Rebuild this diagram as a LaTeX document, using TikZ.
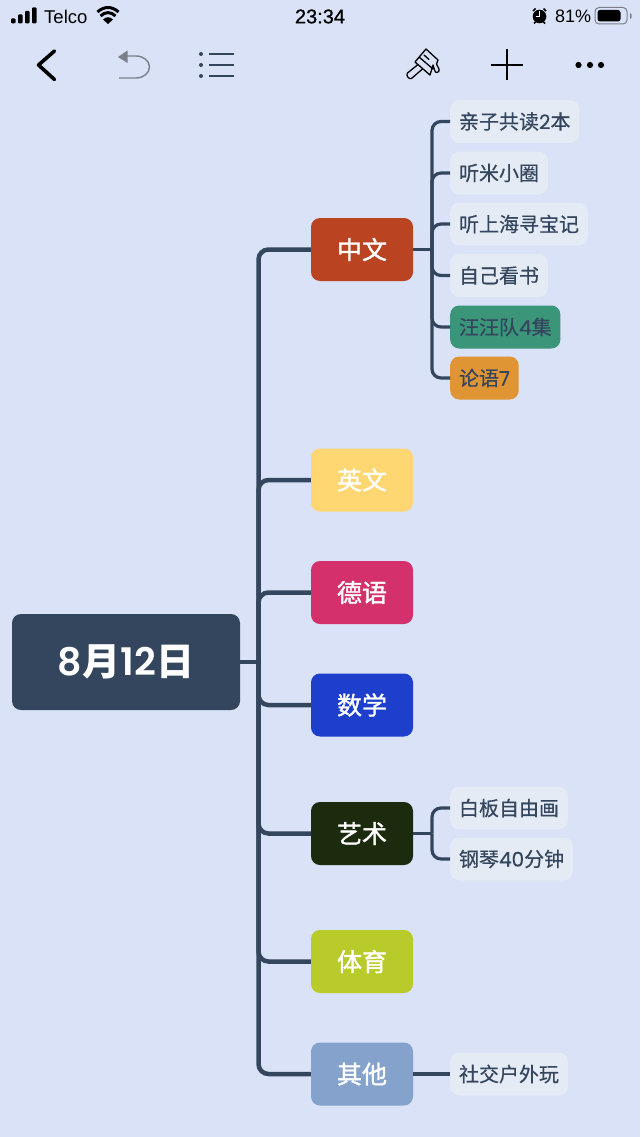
\documentclass[tikz,border=0pt]{standalone}
\usepackage{fontspec}
\setmainfont{Noto Sans CJK SC}
\newfontfamily\latinfont{Liberation Sans}
\newfontfamily\midfont[FakeBold=0.5]{Noto Sans CJK SC}
\newfontfamily\topicfont[FakeBold=1.4]{Noto Sans CJK SC}
\newfontfamily\digitfont[FakeBold=0.5]{Poppins}
\newfontfamily\rootdigit{Poppins SemiBold}
\newfontfamily\clockfont[FakeBold=0.7]{Liberation Sans}
\definecolor{pagebg}{HTML}{D9E2F6}
\definecolor{linkc}{HTML}{34455E}
\definecolor{subc}{HTML}{E5EBF4}
\definecolor{redc}{HTML}{BA4322}
\definecolor{yellowc}{HTML}{FFD772}
\definecolor{crimsonc}{HTML}{D3306C}
\definecolor{bluec}{HTML}{1E3FCB}
\definecolor{darkc}{HTML}{1C2B0D}
\definecolor{limec}{HTML}{B9CB2A}
\definecolor{steelc}{HTML}{84A2CC}
\definecolor{greenc}{HTML}{3A9579}
\definecolor{orangec}{HTML}{DF9534}
\definecolor{undoc}{HTML}{7A7F8A}
\tikzset{
  rootbox/.style={rectangle, rounded corners=9pt, fill=linkc, text=white, minimum width=228pt, minimum height=96pt, inner sep=0pt, font=\fontsize{38}{38}\selectfont\bfseries},
  topicbox/.style={rectangle, rounded corners=9pt, minimum width=102pt, minimum height=63pt, inner sep=0pt, text=white, font=\fontsize{25}{25}\topicfont\selectfont},
  subbox/.style={rectangle, rounded corners=9pt, fill=subc, text=linkc, minimum height=43pt, inner sep=0pt, inner xsep=8.8pt, anchor=west, font=\fontsize{20}{20}\midfont\selectfont},
  link/.style={draw=linkc, line width=4.5pt, rounded corners=10pt},
  sublink/.style={draw=linkc, line width=3.2pt, rounded corners=9pt},
}
\begin{document}
\begin{tikzpicture}[x=1pt,y=-1pt]
\useasboundingbox (0,0) rectangle (640,1137);
\fill[pagebg] (0,0) rectangle (640,1137);
% status bar
\fill[black, rounded corners=1pt] (11,18.5) rectangle (15.5,23.5);
\fill[black, rounded corners=1pt] (18,14.5) rectangle (22.5,23.5);
\fill[black, rounded corners=1pt] (25,11) rectangle (29.5,23.5);
\fill[black, rounded corners=1pt] (32,7.5) rectangle (36.5,23.5);
\node[anchor=west, inner sep=0pt, font=\latinfont\fontsize{18.5}{18.5}\selectfont] (carrier) at (44,16.5) {Telco};
\fill[black] (108,24) -- (103,19.5) .. controls (106,16.5) and (110,16.5) .. (113,19.5) -- cycle;
\draw[black, line width=3pt] (100.5,16) .. controls (105,11.5) and (111,11.5) .. (115.5,16);
\draw[black, line width=3pt] (97.5,12) .. controls (104,6) and (112,6) .. (118.5,12);
\node[inner sep=0pt, font=\fontsize{20}{20}\clockfont\selectfont] (clock) at (320,16.5) {23:34};
\fill[black] (539.5,16.5) circle (6.8pt);
\draw[white, line width=1pt] (539.5,11.5) -- (539.5,16.5) -- (536,16.5);
\draw[black, line width=1.6pt] (533,11) -- (535.5,8.5) (546,11) -- (543.5,8.5) (534,23.5) -- (535.5,22) (545,23.5) -- (543.5,22);
\node[anchor=west, inner sep=0pt, font=\latinfont\fontsize{18}{18}\selectfont] (percent) at (555,16.5) {81\%};
\draw[undoc, line width=1pt, rounded corners=4pt] (595,7.5) rectangle (627,24);
\fill[black, rounded corners=2.5pt] (597.5,10) rectangle (620.5,21.5);
\fill[undoc] (630,13) -- (631.5,14.5) -- (631.5,17.5) -- (630,19) -- cycle;
% toolbar
\draw[black, line width=3.6pt, line cap=round, line join=round] (54.5,51) -- (38.5,65) -- (54.5,79.5);
\fill[undoc] (118,57) -- (127.5,50.5) -- (127.5,63) -- cycle;
\draw[undoc, line width=1.4pt] (127,56) -- (136,56) arc[start angle=-90, end angle=90, x radius=13.5pt, y radius=-11pt] -- (119,78);
\fill[linkc] (201,54) circle (2pt) (201,65) circle (2pt) (201,76) circle (2pt);
\draw[linkc, line width=1.3pt] (209,54) -- (233.5,54) (209,65) -- (233.5,65) (209,76) -- (233.5,76);
\draw[black, line width=1.3pt, line join=round, line cap=round]
  (426,49) -- (438,60) -- (436.5,64) -- (439,69) .. controls (440,73) and (435,74) .. (434.5,70) -- (433,65) -- (430,75) -- (415,62) -- cycle
  (419,57) -- (433,69)
  (418,64.5) -- (407.5,73) .. controls (405.5,75) and (409,80) .. (411.5,78.5) -- (422.5,69)
  (424,55) -- (429,59.5);
\draw[black, line width=1.5pt] (491,65) -- (523,65) (507,49.5) -- (507,80.5);
\fill[black] (578.5,65) circle (3.1pt) (590,65) circle (3.1pt) (601,65) circle (3.1pt);
% nodes
\node[rootbox] (day) at (126,662) {{\rootdigit\mdseries 8}月{\rootdigit\mdseries 12}日};
\node[topicbox, fill=redc] (zhongwen) at (362,249.5) {中文};
\node[topicbox, fill=yellowc] (yingwen) at (362,480) {英文};
\node[topicbox, fill=crimsonc] (deyu) at (362,592.5) {德语};
\node[topicbox, fill=bluec] (shuxue) at (362,705) {数学};
\node[topicbox, fill=darkc] (yishu) at (362,833.5) {艺术};
\node[topicbox, fill=limec] (tiyu) at (362,961.5) {体育};
\node[topicbox, fill=steelc] (qita) at (362,1074) {其他};
\node[subbox] (qinzi) at (450,121.5) {亲子共读{\digitfont 2}本};
\node[subbox] (timi) at (450,173) {听米小圈};
\node[subbox] (shanghai) at (450,224) {听上海寻宝记};
\node[subbox] (zikan) at (450,275.5) {自己看书};
\node[subbox, fill=greenc] (wangwang) at (450,327) {汪汪队{\digitfont 4}集};
\node[subbox, fill=orangec] (lunyu) at (450,378) {论语{\digitfont 7}};
\node[subbox] (baiban) at (450,808) {白板自由画};
\node[subbox] (gangqin) at (450,859) {钢琴{\digitfont 40}分钟};
\node[subbox] (shejiao) at (450,1074) {社交户外玩};
\coordinate (hubday) at (258.5,662);
\coordinate (hubzw) at (432,249.5);
\coordinate (hubys) at (432,833.5);
% links
\draw[link] (day.east) -- (hubday);
\draw[link] (hubday) |- (zhongwen.west);
\draw[link] (hubday) |- (yingwen.west);
\draw[link] (hubday) |- (deyu.west);
\draw[link] (hubday) |- (shuxue.west);
\draw[link] (hubday) |- (yishu.west);
\draw[link] (hubday) |- (tiyu.west);
\draw[link] (hubday) |- (qita.west);
\draw[sublink] (zhongwen.east) -- (hubzw);
\draw[sublink] (hubzw) |- (qinzi.west);
\draw[sublink] (hubzw) |- (timi.west);
\draw[sublink] (hubzw) |- (shanghai.west);
\draw[sublink] (hubzw) |- (zikan.west);
\draw[sublink] (hubzw) |- (wangwang.west);
\draw[sublink] (hubzw) |- (lunyu.west);
\draw[sublink] (yishu.east) -- (hubys);
\draw[sublink] (hubys) |- (baiban.west);
\draw[sublink] (hubys) |- (gangqin.west);
\draw[sublink] (qita.east) -- (shejiao.west);
\end{tikzpicture}
\end{document}
